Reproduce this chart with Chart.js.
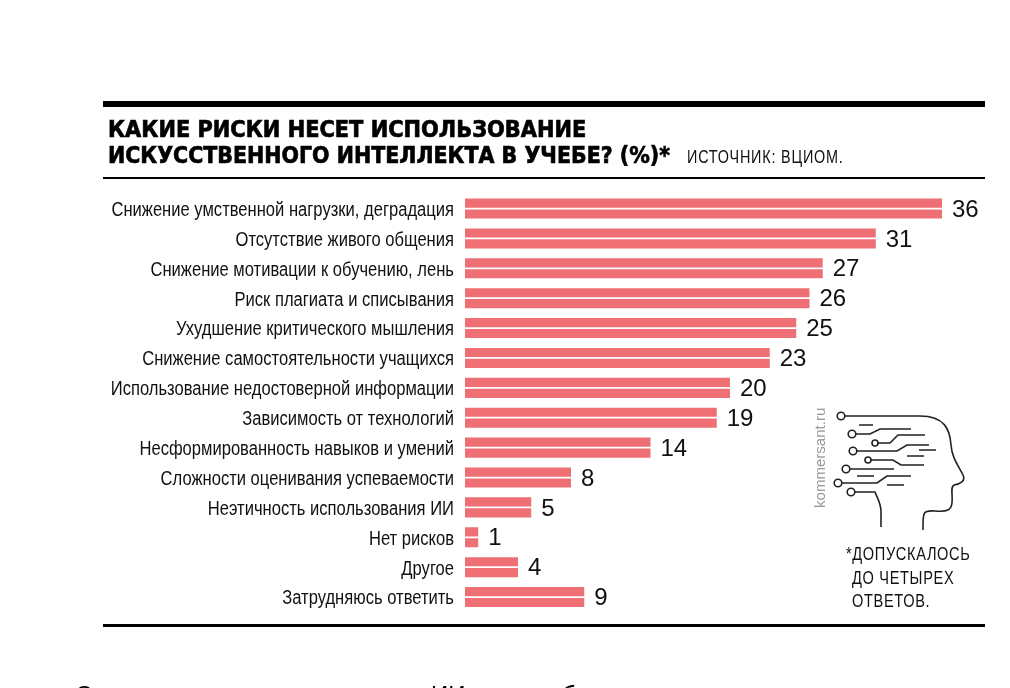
<!DOCTYPE html>
<html lang="ru">
<head>
<meta charset="utf-8">
<title>Какие риски несет использование ИИ в учебе</title>
<script src="https://cdn.jsdelivr.net/npm/chart.js@4"></script>
<style>
  html, body { margin: 0; padding: 0; background: #fff; }
  #wrap { position: relative; width: 1010px; height: 688px; overflow: hidden; }
  #chart { position: absolute; left: 0; top: 0; }
  .rule { position: absolute; left: 103px; width: 882px; background: #000; }
  .txt { position: absolute; white-space: nowrap; color: #111; font-family: "Liberation Sans", sans-serif; }
  .title { left: 108px; font: 800 23px/26px "DejaVu Sans", sans-serif; color: #000;
           -webkit-text-stroke: .7px #000; transform-origin: 0 0; }
  #source { left: 687px; top: 147px; font-size: 18px; line-height: 20px; letter-spacing: 1px;
            transform-origin: 0 0; transform: scaleX(.8); }
  #note { left: 846px; top: 543px; font-size: 18px; line-height: 23.5px; letter-spacing: .8px;
          transform-origin: 0 0; transform: scaleX(.81); }
  #note span { margin-left: 7.5px; }
  #site { left: 812px; top: 508px; font-size: 15.5px; line-height: 16px; color: #999;
          transform-origin: 0 0; transform: rotate(-90deg) scaleX(.97); }
  .cut { top: 681px; font-size: 24px; line-height: 28px; color: #000; }
  #head { position: absolute; left: 830px; top: 405px; }
</style>
</head>
<body>
<div id="wrap">
  <canvas id="chart" width="1010" height="688"></canvas>
  <div class="rule" style="top:101px;height:6px"></div>
  <div class="rule" style="top:177px;height:1.5px"></div>
  <div class="rule" style="top:624px;height:3px"></div>
  <div class="txt title" style="top:116px;transform:scaleX(.91)">КАКИЕ РИСКИ НЕСЕТ ИСПОЛЬЗОВАНИЕ</div>
  <div class="txt title" style="top:142px;transform:scaleX(.895)">ИСКУССТВЕННОГО ИНТЕЛЛЕКТА В УЧЕБЕ? (%)*</div>
  <div class="txt" id="source">ИСТОЧНИК: ВЦИОМ.</div>
  <div class="txt" id="site">kommersant.ru</div>
  <div class="txt" id="note">*ДОПУСКАЛОСЬ<br><span>ДО ЧЕТЫРЕХ</span><br><span>ОТВЕТОВ.</span></div>
  <svg id="head" width="140" height="135" viewBox="830 405 140 135" fill="none" stroke="#222" stroke-width="1.6">
    <circle cx="841" cy="416" r="3.8" fill="#fff"/>
    <path d="M845 416H920C945 416 950 430 951 445C952 458 958 465 963 475C966 481 960 484 954 485C950 487 953 495 952 503C951 510 948 512 935 511C922 510 923 513 923 530"/>
    <circle cx="852" cy="434" r="3.8"/><path d="M856 434H870L880 429H911"/>
    <circle cx="875" cy="443" r="3"/><path d="M878 443H890L898 435H925"/>
    <circle cx="853" cy="451" r="3.8"/><path d="M857 451H897L907 445H929"/>
    <circle cx="868" cy="460" r="3"/><path d="M871 460H893L901 465H924"/>
    <circle cx="846" cy="469" r="3.8"/><path d="M850 469H894"/>
    <circle cx="838" cy="483" r="3.8"/><path d="M842 483H877L887 476H911"/>
    <circle cx="851" cy="492" r="3.8"/><path d="M855 492H875C878 500 881 503 881 512V527"/>
    <path d="M859 425H873M919 450H936M907 456H924M857 476H874M887 485H904"/>
  </svg>
  <!-- only the tops of these letters show at the bottom edge of the picture -->
  <div class="txt cut" style="left:75px">С</div>
  <div class="txt cut" style="left:431px">ИИ</div>
  <div class="txt cut" style="left:562px">б</div>
</div>
<script>
// values, in %
const categories = [
  "Снижение умственной нагрузки, деградация",
  "Отсутствие живого общения",
  "Снижение мотивации к обучению, лень",
  "Риск плагиата и списывания",
  "Ухудшение критического мышления",
  "Снижение самостоятельности учащихся",
  "Использование недостоверной информации",
  "Зависимость от технологий",
  "Несформированность навыков и умений",
  "Сложности оценивания успеваемости",
  "Неэтичность использования ИИ",
  "Нет рисков",
  "Другое",
  "Затрудняюсь ответить"
];
const shares = [36, 31, 27, 26, 25, 23, 20, 19, 14, 8, 5, 1, 4, 9];

const barColor = "#ee7074";

// the category names are condensed in the original, ticks can't squeeze text so they are drawn here
const rowLabels = {
  id: "rowLabels",
  afterDraw(chart) {
    const { ctx, scales } = chart;
    ctx.save();
    ctx.font = '19.5px "Liberation Sans", sans-serif';
    ctx.fillStyle = "#111";
    ctx.textAlign = "right";
    ctx.textBaseline = "middle";
    categories.forEach((name, i) => {
      ctx.save();
      ctx.translate(454, scales.y.getPixelForValue(i) + 2);
      ctx.scale(0.85, 1);
      ctx.fillText(name, 0, 0);
      ctx.restore();
    });
    ctx.restore();
  }
};

// the number at the end of each bar
const valueLabels = {
  id: "valueLabels",
  afterDatasetsDraw(chart) {
    const { ctx, scales } = chart;
    ctx.save();
    ctx.font = '24px "Liberation Sans", sans-serif';
    ctx.fillStyle = "#111";
    ctx.textBaseline = "middle";
    shares.forEach((v, i) => {
      ctx.fillText(String(v), scales.x.getPixelForValue(v) + 10, scales.y.getPixelForValue(i) + 1.5);
    });
    ctx.restore();
  }
};

// two thin bars per row give the white stripe through the middle
new Chart(document.getElementById("chart"), {
  type: "bar",
  data: {
    labels: categories,
    datasets: [
      { data: shares, backgroundColor: barColor, categoryPercentage: 0.73, barPercentage: 0.84 },
      { data: shares, backgroundColor: barColor, categoryPercentage: 0.73, barPercentage: 0.84 }
    ]
  },
  options: {
    indexAxis: "y",
    responsive: false,
    animation: false,
    layout: { padding: { top: 193.6, bottom: 76, left: 0, right: 15 } },
    plugins: { legend: { display: false }, tooltip: { enabled: false } },
    scales: {
      x: { display: false, min: 0, max: 40 },
      y: {
        afterFit(scale) { scale.width = 465; },
        grid: { display: false, drawTicks: false },
        border: { display: false },
        ticks: { display: false }
      }
    }
  },
  plugins: [rowLabels, valueLabels]
});
</script>
</body>
</html>
